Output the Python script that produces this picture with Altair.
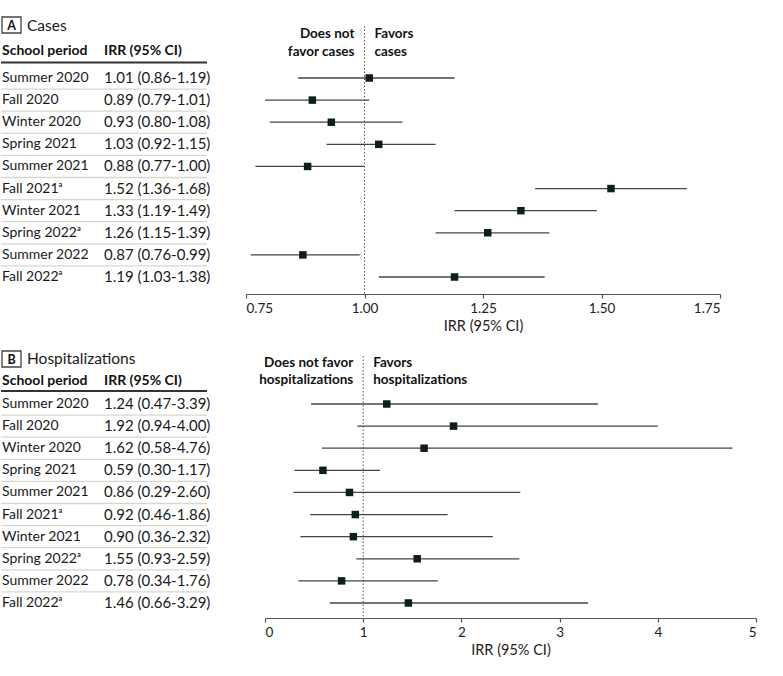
import altair as alt
import pandas as pd

FONT = "Lato"

periods = ["Summer 2020", "Fall 2020", "Winter 2020", "Spring 2021", "Summer 2021",
           "Fall 2021ᵃ", "Winter 2021", "Spring 2022ᵃ", "Summer 2022", "Fall 2022ᵃ"]

cases_irr = [1.01, 0.89, 0.93, 1.03, 0.88, 1.52, 1.33, 1.26, 0.87, 1.19]
cases_lo = [0.86, 0.79, 0.80, 0.92, 0.77, 1.36, 1.19, 1.15, 0.76, 1.03]
cases_hi = [1.19, 1.01, 1.08, 1.15, 1.00, 1.68, 1.49, 1.39, 0.99, 1.38]

hosp_irr = [1.24, 1.92, 1.62, 0.59, 0.86, 0.92, 0.90, 1.55, 0.78, 1.46]
hosp_lo = [0.47, 0.94, 0.58, 0.30, 0.29, 0.46, 0.36, 0.93, 0.34, 0.66]
hosp_hi = [3.39, 4.00, 4.76, 1.17, 2.60, 1.86, 2.32, 2.59, 1.76, 3.29]

cases_ticks = [0.75, 1.00, 1.25, 1.50, 1.75]
hosp_ticks = [0, 1, 2, 3, 4, 5]

header_cols = ["School period", "IRR (95% CI)"]
x_title = "IRR (95% CI)"
ref_value = [1.0]

cases_left_label = ["Does not", "favor cases"]
cases_right_label = ["Favors", "cases"]
hosp_left_label = ["Does not favor", "hospitalizations"]
hosp_right_label = ["Favors", "hospitalizations"]

COL1 = -244
COL2 = -142
TX1 = -245
TX2 = -39
TEXT_COLOR = "#1a1a1a"


def make_panel(letter, name, irr, lo, hi, ticks, fmt, xdomain, xrange, width, height,
               yrange, left_lab, right_lab, g):
    df = pd.DataFrame({"row": list(range(len(periods))), "period": periods,
                       "irr": irr, "lo": lo, "hi": hi})
    df["label"] = [f"{a:.2f} ({b:.2f}-{c:.2f})" for a, b, c in zip(irr, lo, hi)]
    sep = pd.DataFrame({"row": [i + 0.5 for i in range(len(periods) - 1)]})
    ref = pd.DataFrame({"ref": ref_value})
    one = pd.DataFrame({"k": [0]})

    xs = alt.Scale(domain=xdomain, range=xrange, nice=False, zero=False)
    ys = alt.Scale(domain=[0, len(periods) - 1], range=yrange)
    ax = alt.Axis(values=ticks, format=fmt, grid=False, tickSize=4, labelPadding=3,
                  titlePadding=5, labelFont=FONT, labelFontSize=13.5, labelColor="#222",
                  titleFont=FONT, titleFontSize=14.5, titleFontWeight="normal",
                  titleColor="#222", domainColor="#555", tickColor="#555",
                  domainWidth=1.2, tickWidth=1.2)

    def X(f):
        return alt.X(f, type="quantitative", scale=xs, axis=ax, title=x_title)

    def Y(f):
        return alt.Y(f, type="quantitative", scale=ys, axis=None)

    base = alt.Chart(df)

    box = alt.Chart(one).mark_rect(fill="white", stroke="#444", strokeWidth=1.3).encode(
        x=alt.value(COL1), x2=alt.value(COL1 + 19),
        y=alt.value(g["box"][0]), y2=alt.value(g["box"][1]))
    box_letter = alt.Chart(one).mark_text(
        text=letter, font=FONT, fontSize=12.5, fontWeight="bold", color="#111",
        align="center", baseline="middle").encode(
        x=alt.value(COL1 + 9.5), y=alt.value((g["box"][0] + g["box"][1]) / 2 + 0.5))
    title = alt.Chart(one).mark_text(
        text=name, font=FONT, fontSize=15.5, color=TEXT_COLOR,
        align="left", baseline="middle").encode(
        x=alt.value(COL1 + 25), y=alt.value(g["title_y"]))

    hdr1 = alt.Chart(one).mark_text(
        text=header_cols[0], font=FONT, fontSize=14, fontWeight="bold", color="#111",
        align="left", baseline="middle").encode(x=alt.value(COL1), y=alt.value(g["header_y"]))
    hdr2 = alt.Chart(one).mark_text(
        text=header_cols[1], font=FONT, fontSize=14, fontWeight="bold", color="#111",
        align="left", baseline="middle").encode(x=alt.value(COL2), y=alt.value(g["header_y"]))
    underline = alt.Chart(one).mark_rule(color="#333", strokeWidth=2).encode(
        x=alt.value(TX1), x2=alt.value(TX2), y=alt.value(g["underline_y"]))

    seps = alt.Chart(sep).mark_rule(color="#d8d7cc", strokeWidth=1.3).encode(
        x=alt.value(TX1), x2=alt.value(TX2), y=Y("row"))

    col1 = base.mark_text(font=FONT, fontSize=14, color=TEXT_COLOR, align="left",
                          baseline="middle").encode(
        x=alt.value(COL1), y=Y("row"), text="period:N")
    col2 = base.mark_text(font=FONT, fontSize=15, color=TEXT_COLOR, align="left",
                          baseline="middle").encode(
        x=alt.value(COL2), y=Y("row"), text="label:N")

    refrule = alt.Chart(ref).mark_rule(color="#555", strokeWidth=1, strokeDash=[1.5, 2]).encode(
        x=X("ref"), y=alt.value(g["ref_top"]), y2=alt.value(height))

    labs = []
    for txt, yy in zip(left_lab, g["lab_y"]):
        labs.append(alt.Chart(ref).mark_text(
            text=txt, font=FONT, fontSize=13.5, fontWeight="bold", color="#111",
            align="right", baseline="middle", dx=-10).encode(x=X("ref"), y=alt.value(yy)))
    for txt, yy in zip(right_lab, g["lab_y"]):
        labs.append(alt.Chart(ref).mark_text(
            text=txt, font=FONT, fontSize=13.5, fontWeight="bold", color="#111",
            align="left", baseline="middle", dx=10).encode(x=X("ref"), y=alt.value(yy)))

    ci = base.mark_rule(color="#444", strokeWidth=1.3).encode(
        x=X("lo"), x2="hi:Q", y=Y("row"))
    pts = base.mark_square(size=56, color="#0e1e1c", opacity=1, filled=True).encode(
        x=X("irr"), y=Y("row"))

    return alt.layer(box, box_letter, title, hdr1, hdr2, underline, seps, col1, col2,
                     refrule, *labs, ci, pts).properties(width=width, height=height)


panel_a = make_panel(
    "A", "Cases", cases_irr, cases_lo, cases_hi, cases_ticks, ".2f",
    [0.75, 1.75], [0, 474], 474, 282, [66, 265],
    cases_left_label, cases_right_label,
    {"box": [5, 21], "title_y": 13.5, "header_y": 39, "underline_y": 50.5,
     "ref_top": 14, "lab_y": [21.5, 40]})

panel_b = make_panel(
    "B", "Hospitalizations", hosp_irr, hosp_lo, hosp_hi, hosp_ticks, "d",
    [0, 5], [19, 510], 510, 272, [58, 257],
    hosp_left_label, hosp_right_label,
    {"box": [5, 21], "title_y": 13, "header_y": 35, "underline_y": 45,
     "ref_top": 10, "lab_y": [16.7, 34.3]})

chart = alt.vconcat(panel_a, panel_b, spacing=13).properties(
    padding={"left": 0, "top": 12, "right": 5, "bottom": 5}
).configure(font=FONT).configure_view(stroke=None)

chart.save("out.html", embed_options={"renderer": "svg", "actions": False})
